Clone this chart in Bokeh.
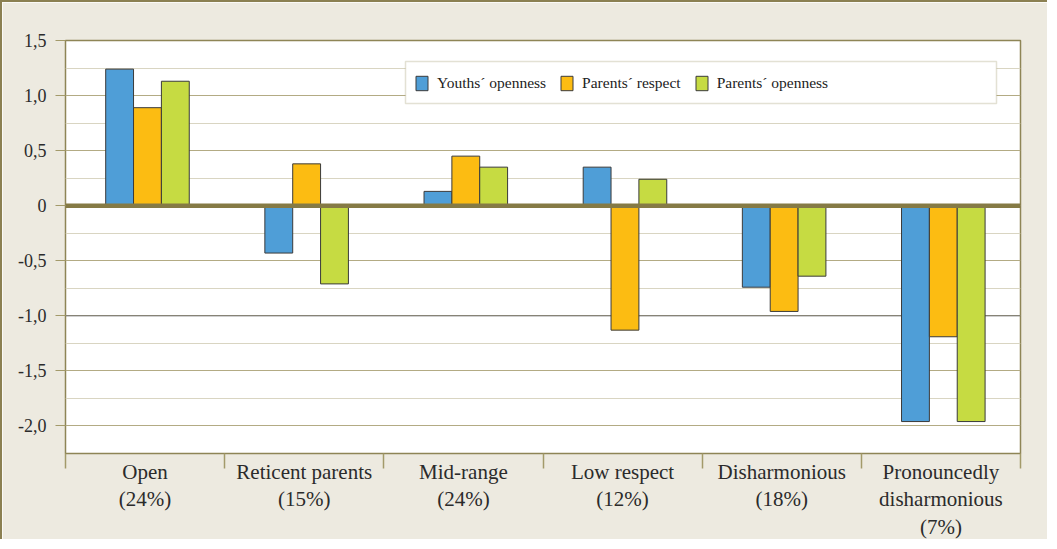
from bokeh.plotting import figure
from bokeh.models import (Range1d, FixedTicker, Span, BoxAnnotation, Legend,
                          LegendItem, ColumnDataSource)
from bokeh.transform import dodge
from bokeh.embed import file_html
from bokeh.resources import INLINE

# ---------------- data ----------------
categories = ["Open\n(24%)", "Reticent parents\n(15%)", "Mid-range\n(24%)",
              "Low respect\n(12%)", "Disharmonious\n(18%)",
              "Pronouncedly\ndisharmonious\n(7%)"]
youths_openness = [1.24, -0.43, 0.13, 0.35, -0.74, -1.96]
parents_respect = [0.89, 0.38, 0.45, -1.13, -0.96, -1.19]
parents_openness = [1.13, -0.71, 0.35, 0.24, -0.64, -1.96]
series_names = ["Youths\u00b4 openness", "Parents\u00b4 respect", "Parents\u00b4 openness"]
y_ticks = [-2.0, -1.5, -1.0, -0.5, 0.0, 0.5, 1.0, 1.5]
y_tick_labels = ["-2,0", "-1,5", "-1,0", "-0,5", "0", "0,5", "1,0", "1,5"]

# ---------------- styles ----------------
colors = ["#4F9ED7", "#FCBC12", "#C6DB42"]
offsets = [-0.16, 0.015, 0.19]
olive = "#8B8052"
font = "Liberation Serif"

centers = [i + 0.5 for i in range(len(categories))]
src = ColumnDataSource(dict(x=centers, y0=youths_openness,
                            y1=parents_respect, y2=parents_openness))

p = figure(width=1047, height=539,
           x_range=Range1d(0, len(categories)), y_range=Range1d(-2.25, 1.5),
           output_backend="svg", toolbar_location=None,
           min_border_left=63, min_border_top=38, min_border_right=29,
           min_border_bottom=86)
p.styles = {"border-top": "2px solid " + olive, "border-left": "2px solid " + olive}
p.border_fill_color = "#EDEAE0"
p.background_fill_color = "white"
p.outline_line_color = "#8E8556"
p.outline_line_width = 1.5

# grid
minor = [t + 0.25 for t in y_ticks[:-1]]
p.ygrid.ticker = FixedTicker(ticks=y_ticks, minor_ticks=minor)
p.ygrid.grid_line_color = "#B3AB84"
p.ygrid.grid_line_width = 1.2
p.ygrid.minor_grid_line_color = "#D9D5C2"
p.ygrid.minor_grid_line_width = 1.2
p.xgrid.visible = False

p.add_layout(Span(location=-1.0, dimension="width", line_color="#707070",
                  line_width=1, level="underlay"))

# y axis
p.yaxis.ticker = FixedTicker(ticks=y_ticks)
p.yaxis.major_label_overrides = dict(zip(y_ticks, y_tick_labels))
p.yaxis.axis_line_color = None
p.yaxis.major_tick_out = 10
p.yaxis.major_tick_in = 0
p.yaxis.major_tick_line_color = "#A39A6A"
p.yaxis.major_tick_line_width = 1.2
p.yaxis.minor_tick_line_color = None
p.yaxis.major_label_standoff = 9
p.yaxis.major_label_text_font = font
p.yaxis.major_label_text_font_size = "18px"
p.yaxis.major_label_text_color = "#2B2B2B"

# x axis
p.xaxis.ticker = FixedTicker(ticks=centers, minor_ticks=list(range(len(categories) + 1)))
p.xaxis.major_label_overrides = dict(zip(centers, categories))
p.xaxis.axis_line_color = "#8E8556"
p.xaxis.major_tick_line_color = None
p.xaxis.major_tick_out = 0
p.xaxis.major_tick_in = 0
p.xaxis.minor_tick_in = 0
p.xaxis.minor_tick_out = 15
p.xaxis.minor_tick_line_color = "#A39A6A"
p.xaxis.minor_tick_line_width = 1.5
p.xaxis.major_label_standoff = -9
p.xaxis.major_label_text_font = font
p.xaxis.major_label_text_font_size = "21px"
p.xaxis.major_label_text_line_height = 1.15
p.xaxis.major_label_text_color = "#2B2B2B"

# bars
renderers = []
for i, key in enumerate(["y0", "y1", "y2"]):
    r = p.vbar(x=dodge("x", offsets[i], range=p.x_range), top=key, bottom=0,
               width=0.175, source=src, fill_color=colors[i],
               line_color="#3A3A3A", line_width=1)
    renderers.append(r)

# zero line
p.add_layout(Span(location=0, dimension="width", line_color="#857A45", line_width=4.5))

# legend box + legend
p.add_layout(BoxAnnotation(left=340, right=931, bottom=350, top=392,
                           left_units="screen", right_units="screen",
                           bottom_units="screen", top_units="screen",
                           fill_color="white", fill_alpha=1,
                           line_color="#A39A72", line_width=1.5))
legend = Legend(items=[LegendItem(label=n, renderers=[r]) for n, r in zip(series_names, renderers)],
                location=(349, 361), orientation="horizontal",
                glyph_width=15, glyph_height=18, label_standoff=8, spacing=13,
                padding=0, margin=0, border_line_color=None,
                background_fill_alpha=0,
                label_text_font=font, label_text_font_size="15.5px",
                label_text_color="#222222")
p.add_layout(legend)

open("out.html", "w").write(file_html(p, INLINE))
